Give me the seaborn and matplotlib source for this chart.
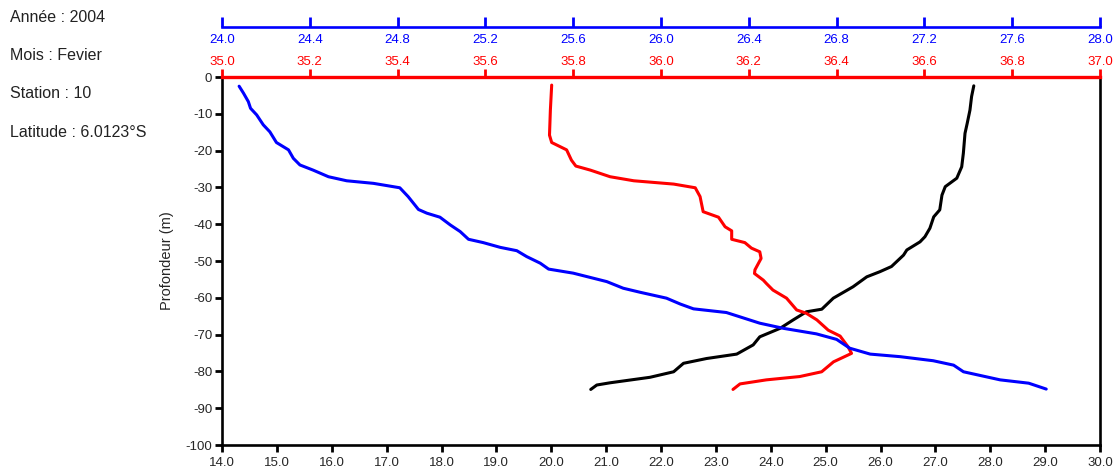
import numpy as np
import pandas as pd
import matplotlib
matplotlib.use("Agg")
import matplotlib.pyplot as plt
import seaborn as sns
from matplotlib.ticker import FormatStrFormatter


# 1. Profile data

temp_depth = [-2.4, -5.3, -9.0, -12.6, -15.3, -20.7, -24.4, -27.5, -29.8, -32.1,
              -36.1, -38.0, -41.1, -43.4, -44.8, -47.0, -48.4, -51.5, -52.9, -54.3,
              -57.0, -60.1, -63.1, -63.8, -66.0, -68.3, -70.6, -72.8, -75.3, -76.5,
              -77.8, -80.1, -81.6, -83.1, -83.7, -84.9]
temperature = [27.70, 27.66, 27.63, 27.58, 27.54, 27.51, 27.48, 27.39, 27.18, 27.12,
               27.08, 26.97, 26.90, 26.81, 26.72, 26.48, 26.42, 26.20, 25.99, 25.75,
               25.50, 25.14, 24.93, 24.65, 24.41, 24.17, 23.80, 23.68, 23.38, 22.83,
               22.41, 22.23, 21.80, 21.07, 20.83, 20.72]

sal_depth = [-2.2, -9.0, -15.8, -17.8, -19.8, -22.6, -24.2, -25.3, -27.1, -28.2,
             -29.1, -30.1, -32.5, -36.6, -38.1, -40.7, -41.8, -44.1, -45.0, -46.5,
             -47.5, -49.3, -52.4, -53.4, -55.2, -56.1, -57.9, -60.1, -63.3, -64.2,
             -66.0, -68.8, -70.4, -73.3, -75.1, -77.4, -80.1, -81.4, -82.3, -83.4,
             -84.9]
salinity = [35.751, 35.748, 35.746, 35.751, 35.785, 35.796, 35.806, 35.839, 35.884, 35.938,
            36.029, 36.078, 36.089, 36.096, 36.131, 36.146, 36.161, 36.161, 36.191, 36.206,
            36.225, 36.228, 36.214, 36.213, 36.233, 36.240, 36.255, 36.286, 36.309, 36.331,
            36.355, 36.381, 36.408, 36.426, 36.434, 36.393, 36.366, 36.316, 36.240, 36.180,
            36.164]

rho_depth = [-2.5, -4.4, -6.7, -8.5, -10.3, -13.0, -14.9, -17.8, -19.8, -22.1,
             -23.9, -25.3, -27.1, -28.2, -28.9, -30.1, -32.5, -36.0, -37.0, -38.1,
             -40.2, -42.0, -44.1, -45.0, -46.3, -47.2, -48.8, -50.6, -52.2, -53.3,
             -55.6, -57.4, -58.5, -60.1, -61.7, -63.0, -64.0, -66.9, -68.3, -69.8,
             -71.3, -73.7, -75.3, -76.0, -77.1, -78.3, -80.1, -82.3, -83.2, -84.8]
density = [24.078, 24.098, 24.120, 24.130, 24.158, 24.188, 24.218, 24.248, 24.303, 24.325,
           24.355, 24.415, 24.485, 24.568, 24.690, 24.810, 24.848, 24.895, 24.933, 24.993,
           25.040, 25.085, 25.123, 25.190, 25.268, 25.343, 25.388, 25.450, 25.488, 25.600,
           25.753, 25.828, 25.905, 26.025, 26.088, 26.148, 26.298, 26.450, 26.558, 26.708,
           26.800, 26.860, 26.953, 27.090, 27.240, 27.333, 27.378, 27.545, 27.675, 27.755]

temp_ticks = np.arange(14.0, 30.01, 1.0)
sal_ticks = np.arange(35.0, 37.01, 0.2)
rho_ticks = np.arange(24.0, 28.01, 0.4)
depth_ticks = np.arange(-100, 1, 10)

info_lines = ["Année : 2004", "Mois : Fevier", "Station : 10", "Latitude : 6.0123°S"]

df_t = pd.DataFrame({"depth": temp_depth, "value": temperature})
df_s = pd.DataFrame({"depth": sal_depth, "value": salinity})
df_r = pd.DataFrame({"depth": rho_depth, "value": density})


# 2. Style

sns.set_style("white")
plt.rcParams["font.family"] = ["Liberation Sans", "DejaVu Sans"]
plt.rcParams["axes.unicode_minus"] = False

fig = plt.figure(figsize=(11.2, 4.74), dpi=100)
ax = fig.add_axes([222 / 1120, 1 - 445 / 474, 878 / 1120, 368 / 474])
ax_sal = ax.twiny()
ax_rho = ax.twiny()

lw_line = 2.2
lw_spine = 1.9
tick_fs = 9.5


# 3. Curves

sns.lineplot(data=df_t, x="value", y="depth", sort=False, estimator=None,
             color="black", linewidth=lw_line, ax=ax)
sns.lineplot(data=df_s, x="value", y="depth", sort=False, estimator=None,
             color="red", linewidth=lw_line, ax=ax_sal)
sns.lineplot(data=df_r, x="value", y="depth", sort=False, estimator=None,
             color="blue", linewidth=lw_line, ax=ax_rho)


# 4. Main axis (temperature / depth)

ax.set_xlim(14, 30)
ax.set_ylim(-100, 0)
ax.set_xticks(temp_ticks)
ax.set_yticks(depth_ticks)
ax.xaxis.set_major_formatter(FormatStrFormatter("%.1f"))
ax.set_xlabel("")
ax.set_ylabel("Profondeur (m)", fontsize=10.5, labelpad=8)
ax.tick_params(axis="both", direction="out", length=5, width=2, color="black",
               labelsize=tick_fs, pad=2)
ax.tick_params(axis="x", pad=3.5)
ax.xaxis.set_ticks_position("bottom")
ax.yaxis.set_ticks_position("left")
for side in ["left", "right", "bottom"]:
    ax.spines[side].set_color("black")
    ax.spines[side].set_linewidth(lw_spine)
ax.spines["top"].set_visible(False)


# 5. Salinity axis (red, top)

ax_sal.set_xlim(35, 37)
ax_sal.set_xticks(sal_ticks)
ax_sal.xaxis.set_major_formatter(FormatStrFormatter("%.1f"))
ax_sal.set_xlabel("")
ax_sal.set_ylabel("")
ax_sal.xaxis.set_ticks_position("top")
ax_sal.tick_params(axis="x", direction="out", length=6, width=2, colors="red",
                   labelsize=tick_fs, pad=0.5)
for side in ["left", "right", "bottom"]:
    ax_sal.spines[side].set_visible(False)
ax_sal.spines["top"].set_color("red")
ax_sal.spines["top"].set_linewidth(2.4)


# 6. Density axis (blue, offset above)

ax_rho.set_xlim(24, 28)
ax_rho.set_xticks(rho_ticks)
ax_rho.xaxis.set_major_formatter(FormatStrFormatter("%.1f"))
ax_rho.set_xlabel("")
ax_rho.set_ylabel("")
ax_rho.xaxis.set_ticks_position("bottom")
ax_rho.xaxis.set_label_position("bottom")
ax_rho.spines["bottom"].set_position(("axes", (445 - 27) / 368))
ax_rho.tick_params(axis="x", direction="in", length=7, width=2, colors="blue",
                   labelsize=tick_fs, pad=5)
for side in ["left", "right", "top"]:
    ax_rho.spines[side].set_visible(False)
ax_rho.spines["bottom"].set_color("blue")
ax_rho.spines["bottom"].set_linewidth(lw_spine)
ax_rho.tick_params(axis="y", left=False, right=False, labelleft=False, labelright=False)
ax_sal.tick_params(axis="y", left=False, right=False, labelleft=False, labelright=False)


# 7. Station info

for i, txt in enumerate(info_lines):
    fig.text(10 / 1120, 1 - (17 + 38.5 * i) / 474, txt, fontsize=11.5,
             ha="left", va="center", color="#222222")

fig.savefig("out.png", dpi=100)
